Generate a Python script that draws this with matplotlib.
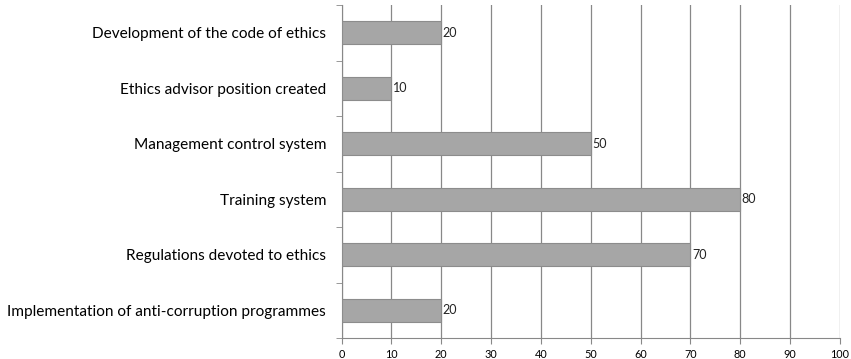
import matplotlib
matplotlib.use("Agg")
import matplotlib.pyplot as plt

categories = ["Development of the code of ethics",
              "Ethics advisor position created",
              "Management control system",
              "Training system",
              "Regulations devoted to ethics",
              "Implementation of anti-corruption programmes"]
values = [20, 10, 50, 80, 70, 20]
xticks = list(range(0, 101, 10))

plt.rcParams['font.family'] = ['Lato', 'DejaVu Sans']

fig = plt.figure(figsize=(8.51, 3.59), dpi=100)
ax = fig.add_axes([341.5/851, 1-338/359, (840-341.5)/851, (338-5)/359])

n = len(categories)
ypos = list(range(n))[::-1]
ax.barh(ypos, values, height=0.41, color='#a6a6a6', edgecolor='#8c8c8c', linewidth=0.8, zorder=3)
for y, v in zip(ypos, values):
    ax.text(v + 0.3, y, str(v), va='center', ha='left', fontsize=9, color='#222222')

ax.set_xlim(0, 100)
ax.set_ylim(-0.5, n - 0.5)
ax.set_xticks(xticks)
ax.set_xticklabels([str(t) for t in xticks], fontsize=7.8)
ax.set_yticks(ypos)
ax.set_yticklabels(categories, fontsize=11.1)
ax.set_yticks([i - 0.5 for i in range(n + 1)], minor=True)
ax.tick_params(axis='y', which='major', length=0, pad=11)
ax.tick_params(axis='y', which='minor', length=4, color='#888888')
ax.tick_params(axis='x', length=4, color='#888888', pad=4)
ax.grid(axis='x', color='#888888', linewidth=0.9, zorder=0)
for s in ['top', 'right']:
    ax.spines[s].set_visible(False)
for s in ['left', 'bottom']:
    ax.spines[s].set_color('#888888')
ax.set_axisbelow(True)

fig.savefig('out.png', dpi=100)
